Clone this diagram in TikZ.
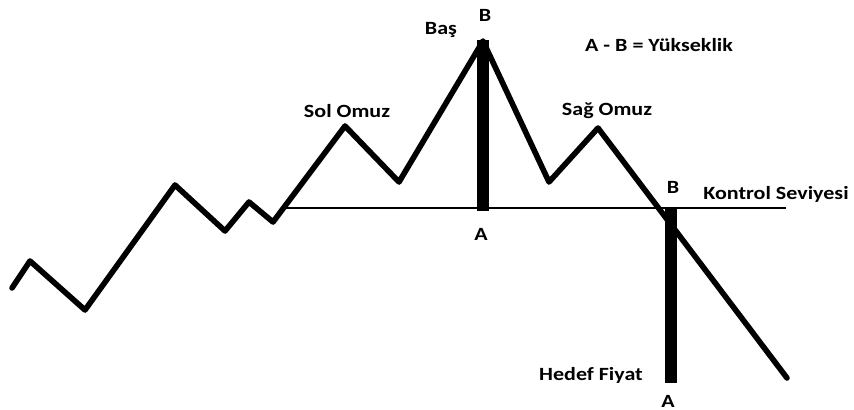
\documentclass[tikz,border=0pt]{standalone}
\usepackage{fontspec}
\setmainfont{Carlito}[FakeStretch=1.18]
\begin{document}
\begin{tikzpicture}[x=0.75pt,y=-0.75pt,
  lbl/.style={font=\bfseries\fontsize{14}{16}\selectfont, text=black, inner sep=0pt},
  price/.style={line width=4.2pt, line join=round, line cap=round},
  level/.style={line width=2.1pt},
  bar/.style={line width=9.5pt}]
\useasboundingbox (0,0) rectangle (854,410);
% price path points
\coordinate (p0) at (12,288);
\coordinate (p1) at (30,261);
\coordinate (p2) at (85,310);
\coordinate (p3) at (175,185);
\coordinate (p4) at (225,231);
\coordinate (p5) at (249,202);
\coordinate (p6) at (273,222);
\coordinate (p7) at (345,126);
\coordinate (p8) at (399,182);
\coordinate (p9) at (483,41);
\coordinate (p10) at (549,182);
\coordinate (p11) at (598,128);
\coordinate (p12) at (787,378);
% control level
\coordinate (l0) at (286,208);
\coordinate (l1) at (786,208);
% bars
\coordinate (h1) at (483,40);
\coordinate (h2) at (483,211);
\coordinate (t1) at (671,208);
\coordinate (t2) at (671,383);
\draw[level] (l0) -- (l1);
\draw[price] (p0) -- (p1) -- (p2) -- (p3) -- (p4) -- (p5) -- (p6) -- (p7) -- (p8) -- (p9) -- (p10) -- (p11) -- (p12);
\draw[bar] (h1) -- (h2);
\draw[bar] (t1) -- (t2);
% labels
\node[lbl] (bTop) at (485,15) {B};
\node[lbl] (bas) at (441,30) {Baş};
\node[lbl] (form) at (659,45) {A - B = Yükseklik};
\node[lbl] (sol) at (347,111) {Sol Omuz};
\node[lbl] (sag) at (607,111) {Sağ Omuz};
\node[lbl] (bMid) at (673,187) {B};
\node[lbl] (kont) at (776,194) {Kontrol Seviyesi};
\node[lbl] (aMid) at (481,234) {A};
\node[lbl] (hedef) at (591,375) {Hedef Fiyat};
\node[lbl] (aBot) at (668,401) {A};
\end{tikzpicture}
\end{document}
